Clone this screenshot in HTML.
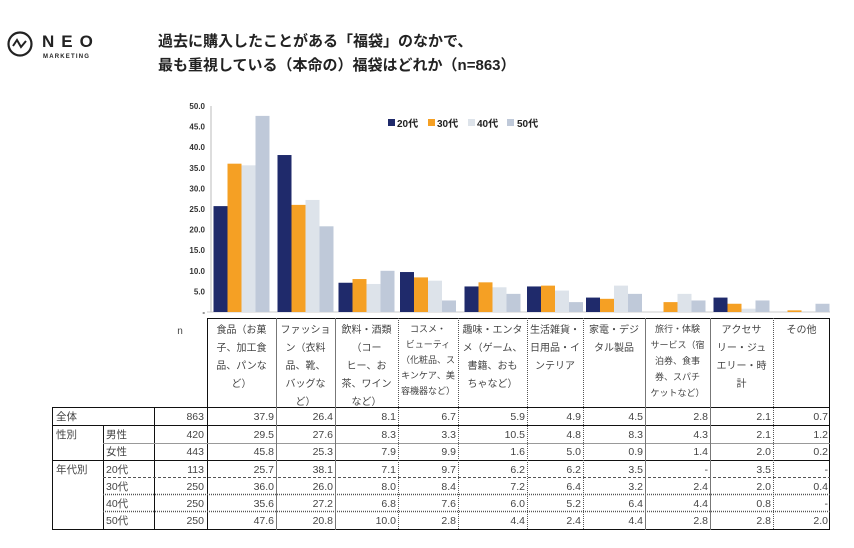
<!DOCTYPE html>
<html><head><meta charset="utf-8"><style>
body{margin:0;background:#fff;}
svg{display:block;font-family:"Liberation Sans","Noto Sans CJK JP",sans-serif;}
</style></head><body>
<svg width="854" height="548" viewBox="0 0 854 548" xmlns="http://www.w3.org/2000/svg">
<rect width="854" height="548" fill="#fff"/>
<!-- logo -->
<circle cx="20" cy="44" r="11.5" fill="none" stroke="#222" stroke-width="2.2"/>
<path d="M13 46 L17 40 L21 47 L26 41" fill="none" stroke="#222" stroke-width="2"/>
<text x="42" y="47" font-size="17" font-weight="bold" fill="#222" letter-spacing="7">NEO</text>
<text x="43" y="58" font-size="6" font-weight="bold" fill="#222" letter-spacing="1.2">MARKETING</text>
<!-- title -->
<text x="158" y="46" font-size="15" font-weight="bold" fill="#222">過去に購入したことがある「福袋」のなかで、</text>
<text x="158" y="70" font-size="15" font-weight="bold" fill="#222">最も重視している（本命の）福袋はどれか（n=863）</text>
<!-- y axis -->
<g font-size="8" font-weight="bold" fill="#333" text-anchor="end">
<text x="205" y="109">50.0</text><text x="205" y="129.6">45.0</text><text x="205" y="150.2">40.0</text>
<text x="205" y="170.8">35.0</text><text x="205" y="191.4">30.0</text><text x="205" y="212">25.0</text>
<text x="205" y="232.6">20.0</text><text x="205" y="253.2">15.0</text><text x="205" y="273.8">10.0</text>
<text x="205" y="294.4">5.0</text><text x="205" y="315">-</text>
</g>
<line x1="211" y1="106" x2="211" y2="312" stroke="#bbb" stroke-width="1"/>
<line x1="207" y1="312" x2="830" y2="312" stroke="#ccc" stroke-width="1"/>
<!-- bars -->
<g transform="translate(0,312) scale(1,-4.12)">
<g fill="#1f2a6b">
<rect x="213.5" y="0" width="14" height="25.7"/><rect x="277.5" y="0" width="14" height="38.1"/>
<rect x="338.5" y="0" width="14" height="7.1"/><rect x="400" y="0" width="14" height="9.7"/>
<rect x="464.5" y="0" width="14" height="6.2"/><rect x="527" y="0" width="14" height="6.2"/>
<rect x="586" y="0" width="14" height="3.5"/><rect x="713.5" y="0" width="14" height="3.5"/>
</g>
<g fill="#f5a024">
<rect x="227.5" y="0" width="14" height="36.0"/><rect x="291.5" y="0" width="14" height="26.0"/>
<rect x="352.5" y="0" width="14" height="8.0"/><rect x="414" y="0" width="14" height="8.4"/>
<rect x="478.5" y="0" width="14" height="7.2"/><rect x="541" y="0" width="14" height="6.4"/>
<rect x="600" y="0" width="14" height="3.2"/><rect x="663.5" y="0" width="14" height="2.4"/>
<rect x="727.5" y="0" width="14" height="2.0"/><rect x="787.5" y="0" width="14" height="0.4"/>
</g>
<g fill="#dde3ea">
<rect x="241.5" y="0" width="14" height="35.6"/><rect x="305.5" y="0" width="14" height="27.2"/>
<rect x="366.5" y="0" width="14" height="6.8"/><rect x="428" y="0" width="14" height="7.6"/>
<rect x="492.5" y="0" width="14" height="6.0"/><rect x="555" y="0" width="14" height="5.2"/>
<rect x="614" y="0" width="14" height="6.4"/><rect x="677.5" y="0" width="14" height="4.4"/>
<rect x="741.5" y="0" width="14" height="0.8"/>
</g>
<g fill="#bfc9d9">
<rect x="255.5" y="0" width="14" height="47.6"/><rect x="319.5" y="0" width="14" height="20.8"/>
<rect x="380.5" y="0" width="14" height="10.0"/><rect x="442" y="0" width="14" height="2.8"/>
<rect x="506.5" y="0" width="14" height="4.4"/><rect x="569" y="0" width="14" height="2.4"/>
<rect x="628" y="0" width="14" height="4.4"/><rect x="691.5" y="0" width="14" height="2.8"/>
<rect x="755.5" y="0" width="14" height="2.8"/><rect x="815.5" y="0" width="14" height="2.0"/>
</g>
</g>
<!-- legend -->
<g font-size="10" font-weight="bold" fill="#222">
<rect x="388" y="119" width="7" height="7" fill="#1f2a6b"/><text x="397" y="127">20代</text>
<rect x="428" y="119" width="7" height="7" fill="#f5a024"/><text x="437" y="127">30代</text>
<rect x="468" y="119" width="7" height="7" fill="#dde3ea"/><text x="477" y="127">40代</text>
<rect x="507" y="119" width="7" height="7" fill="#bfc9d9"/><text x="517" y="127">50代</text>
</g>
<!-- table lines -->
<g stroke="#111" stroke-width="1" fill="none">
<line x1="207" y1="318.5" x2="830" y2="318.5"/>
<line x1="52" y1="407.5" x2="830" y2="407.5"/>
<line x1="52" y1="425.5" x2="830" y2="425.5"/>
<line x1="52" y1="460.5" x2="830" y2="460.5"/>
<line x1="52" y1="529.5" x2="830" y2="529.5"/>
<line x1="52.5" y1="407" x2="52.5" y2="530"/>
<line x1="103.5" y1="425" x2="103.5" y2="530"/>
<line x1="154.5" y1="407" x2="154.5" y2="530"/>
<line x1="207.5" y1="318" x2="207.5" y2="530"/>
<line x1="829.5" y1="318" x2="829.5" y2="530"/>
</g>
<g stroke="#555" stroke-width="1" fill="none">
<line x1="103" y1="443.5" x2="830" y2="443.5" stroke="#999"/>
<line x1="103" y1="477.5" x2="830" y2="477.5" stroke-dasharray="3,2"/>
<line x1="103" y1="494.5" x2="830" y2="494.5" stroke-dasharray="1,1" stroke-width="1.5"/>
<line x1="103" y1="511.5" x2="830" y2="511.5" stroke-dasharray="1,1" stroke-width="1.5"/>
<line x1="276.5" y1="318" x2="276.5" y2="530" stroke="#777"/>
<line x1="335.5" y1="318" x2="335.5" y2="530" stroke="#777"/>
<line x1="398.5" y1="318" x2="398.5" y2="530" stroke-dasharray="1,1"/>
<line x1="458.5" y1="318" x2="458.5" y2="530" stroke-dasharray="1,1"/>
<line x1="527.5" y1="318" x2="527.5" y2="530" stroke-dasharray="1,1"/>
<line x1="583.5" y1="318" x2="583.5" y2="530" stroke-dasharray="1,1"/>
<line x1="645.5" y1="318" x2="645.5" y2="530" stroke="#777"/>
<line x1="710.5" y1="318" x2="710.5" y2="530" stroke="#777"/>
<line x1="773.5" y1="318" x2="773.5" y2="530" stroke-dasharray="1,1"/>
</g>
<!-- header text -->
<g font-size="10" fill="#444" text-anchor="middle">
<text x="180" y="334">n</text>
<text x="241.5" y="333"><tspan x="241.5">食品（お菓</tspan><tspan x="241.5" dy="18">子、加工食</tspan><tspan x="241.5" dy="18">品、パンな</tspan><tspan x="241.5" dy="18">ど）</tspan></text>
<text x="305.5" y="333"><tspan x="305.5">ファッショ</tspan><tspan x="305.5" dy="18">ン（衣料</tspan><tspan x="305.5" dy="18">品、靴、</tspan><tspan x="305.5" dy="18">バッグな</tspan><tspan x="305.5" dy="18">ど）</tspan></text>
<text x="366.5" y="333"><tspan x="366.5">飲料・酒類</tspan><tspan x="366.5" dy="18">（コー</tspan><tspan x="366.5" dy="18">ヒー、お</tspan><tspan x="366.5" dy="18">茶、ワイン</tspan><tspan x="366.5" dy="18">など）</tspan></text>
<g font-size="9"><text x="428" y="332"><tspan x="428">コスメ・</tspan><tspan x="428" dy="15.5">ビューティ</tspan><tspan x="428" dy="15.5">（化粧品、ス</tspan><tspan x="428" dy="15.5">キンケア、美</tspan><tspan x="428" dy="15.5">容機器など）</tspan></text></g>
<text x="492.5" y="333"><tspan x="492.5">趣味・エンタ</tspan><tspan x="492.5" dy="18">メ（ゲーム、</tspan><tspan x="492.5" dy="18">書籍、おも</tspan><tspan x="492.5" dy="18">ちゃなど）</tspan></text>
<text x="555" y="333"><tspan x="555">生活雑貨・</tspan><tspan x="555" dy="18">日用品・イ</tspan><tspan x="555" dy="18">ンテリア</tspan></text>
<text x="614" y="333"><tspan x="614">家電・デジ</tspan><tspan x="614" dy="18">タル製品</tspan></text>
<g font-size="9"><text x="677.5" y="332"><tspan x="677.5">旅行・体験</tspan><tspan x="677.5" dy="16">サービス（宿</tspan><tspan x="677.5" dy="16">泊券、食事</tspan><tspan x="677.5" dy="16">券、スパチ</tspan><tspan x="677.5" dy="16">ケットなど）</tspan></text></g>
<text x="741.5" y="333"><tspan x="741.5">アクセサ</tspan><tspan x="741.5" dy="18">リー・ジュ</tspan><tspan x="741.5" dy="18">エリー・時</tspan><tspan x="741.5" dy="18">計</tspan></text>
<text x="801.5" y="333">その他</text>
</g>
<!-- row labels -->
<g font-size="10.5" fill="#444">
<text x="56" y="420">全体</text>
<text x="56" y="438">性別</text><text x="106" y="438">男性</text><text x="106" y="455">女性</text>
<text x="56" y="473">年代別</text><text x="106" y="473">20代</text><text x="106" y="490">30代</text><text x="106" y="507">40代</text><text x="106" y="524">50代</text>
</g>
<g font-size="10.5" fill="#444" text-anchor="end">
<text x="204" y="420">863</text><text x="204" y="438">420</text><text x="204" y="455">443</text><text x="204" y="473">113</text><text x="204" y="490">250</text><text x="204" y="507">250</text><text x="204" y="524">250</text>
<!-- col1 -->
<text x="274" y="420">37.9</text><text x="274" y="438">29.5</text><text x="274" y="455">45.8</text><text x="274" y="473">25.7</text><text x="274" y="490">36.0</text><text x="274" y="507">35.6</text><text x="274" y="524">47.6</text>
<text x="333" y="420">26.4</text><text x="333" y="438">27.6</text><text x="333" y="455">25.3</text><text x="333" y="473">38.1</text><text x="333" y="490">26.0</text><text x="333" y="507">27.2</text><text x="333" y="524">20.8</text>
<text x="396" y="420">8.1</text><text x="396" y="438">8.3</text><text x="396" y="455">7.9</text><text x="396" y="473">7.1</text><text x="396" y="490">8.0</text><text x="396" y="507">6.8</text><text x="396" y="524">10.0</text>
<text x="456" y="420">6.7</text><text x="456" y="438">3.3</text><text x="456" y="455">9.9</text><text x="456" y="473">9.7</text><text x="456" y="490">8.4</text><text x="456" y="507">7.6</text><text x="456" y="524">2.8</text>
<text x="525" y="420">5.9</text><text x="525" y="438">10.5</text><text x="525" y="455">1.6</text><text x="525" y="473">6.2</text><text x="525" y="490">7.2</text><text x="525" y="507">6.0</text><text x="525" y="524">4.4</text>
<text x="581" y="420">4.9</text><text x="581" y="438">4.8</text><text x="581" y="455">5.0</text><text x="581" y="473">6.2</text><text x="581" y="490">6.4</text><text x="581" y="507">5.2</text><text x="581" y="524">2.4</text>
<text x="643" y="420">4.5</text><text x="643" y="438">8.3</text><text x="643" y="455">0.9</text><text x="643" y="473">3.5</text><text x="643" y="490">3.2</text><text x="643" y="507">6.4</text><text x="643" y="524">4.4</text>
<text x="708" y="420">2.8</text><text x="708" y="438">4.3</text><text x="708" y="455">1.4</text><text x="708" y="473">-</text><text x="708" y="490">2.4</text><text x="708" y="507">4.4</text><text x="708" y="524">2.8</text>
<text x="771" y="420">2.1</text><text x="771" y="438">2.1</text><text x="771" y="455">2.0</text><text x="771" y="473">3.5</text><text x="771" y="490">2.0</text><text x="771" y="507">0.8</text><text x="771" y="524">2.8</text>
<text x="828" y="420">0.7</text><text x="828" y="438">1.2</text><text x="828" y="455">0.2</text><text x="828" y="473">-</text><text x="828" y="490">0.4</text><text x="828" y="507">-</text><text x="828" y="524">2.0</text>
</g>
</svg>
</body></html>
